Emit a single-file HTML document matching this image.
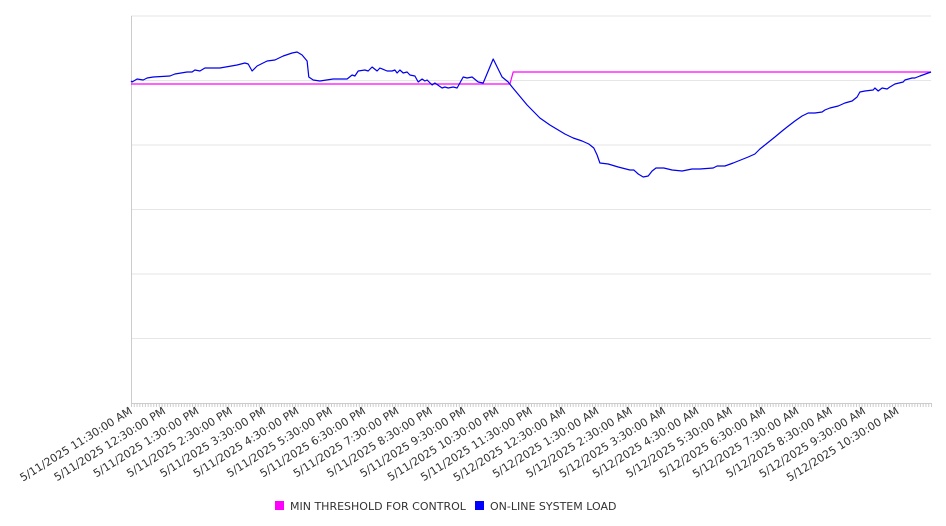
<!DOCTYPE html>
<html><head><meta charset="utf-8"><style>
html,body{margin:0;padding:0;background:#fff;}
svg{display:block;font-family:"DejaVu Sans","Liberation Sans",sans-serif;}
</style></head><body>
<svg id="chart" width="946" height="526" viewBox="0 0 946 526" xmlns="http://www.w3.org/2000/svg">
<g id="grid"></g>
<g id="axes"></g>
<g id="xlabels"></g>
<g id="series"></g>
<g>
  <g>
    <rect x="275" y="501" width="9" height="9" fill="#ff00ff"/>
    <text x="290" y="510" font-size="11" fill="#333">MIN THRESHOLD FOR CONTROL</text>
  </g>
  <g>
    <rect x="475" y="501" width="9" height="9" fill="#0000ff"/>
    <text x="490" y="510" font-size="11" fill="#333">ON-LINE SYSTEM LOAD</text>
  </g>
</g>
</svg>
<script>
const tickLabels = ["5/11/2025 11:30:00 AM","5/11/2025 12:30:00 PM","5/11/2025 1:30:00 PM","5/11/2025 2:30:00 PM","5/11/2025 3:30:00 PM","5/11/2025 4:30:00 PM","5/11/2025 5:30:00 PM","5/11/2025 6:30:00 PM","5/11/2025 7:30:00 PM","5/11/2025 8:30:00 PM","5/11/2025 9:30:00 PM","5/11/2025 10:30:00 PM","5/11/2025 11:30:00 PM","5/12/2025 12:30:00 AM","5/12/2025 1:30:00 AM","5/12/2025 2:30:00 AM","5/12/2025 3:30:00 AM","5/12/2025 4:30:00 AM","5/12/2025 5:30:00 AM","5/12/2025 6:30:00 AM","5/12/2025 7:30:00 AM","5/12/2025 8:30:00 AM","5/12/2025 9:30:00 AM","5/12/2025 10:30:00 AM"];
// minutes since 5/11 11:30 AM
const loadTimes = [0,2,11,22,29,40,70,79,101,110,115,124,133,160,191,205,211,218,227,245,259,274,290,299,308,317,320,328,340,364,389,398,403,409,421,427,434,443,448,461,470,475,479,484,490,497,502,511,517,524,529,533,542,547,560,565,571,580,587,598,605,614,625,634,652,668,679,686,713,736,754,781,796,812,824,833,839,844,859,877,898,905,913,922,931,938,945,959,974,992,1010,1024,1048,1055,1069,1084,1111,1123,1132,1141,1150,1159,1172,1181,1195,1208,1219,1231,1244,1249,1258,1273,1285,1298,1307,1312,1321,1336,1339,1345,1352,1361,1366,1375,1390,1393,1406,1411,1420,1440];
const loadValues = [322,321,324,323,325,326,327,329,331,331,333,332,335,335,338,340,339,332,337,342,343,347,350,351,348,342,326,323,322,324,324,328,327,332,333,332,336,332,335,332,332,333,330,333,330,331,328,327,321,324,322,323,318,320,315,316,315,316,315,326,325,326,321,320,344,326,321,316,298,285,278,269,265,262,259,255,248,240,239,236,233,233,229,226,227,232,235,235,233,232,234,234,235,237,237,240,246,249,254,258,262,266,272,276,282,287,290,290,291,293,295,297,300,302,306,311,312,313,315,312,315,314,316,319,321,323,325,325,327,331];
const thrTimes = [0,682,688,1440];
const thrValues = [319,319,331,331];
const yMax = 387, yGridCount = 6, totalMinutes = 1440;

const L=131,R=931,T=16,B=403;
const NS="http://www.w3.org/2000/svg";
const xS = t => L + t/totalMinutes*(R-L);
const yS = v => B - v/yMax*(B-T);
function mk(tag, attrs, parent){const e=document.createElementNS(NS,tag);for(const k in attrs)e.setAttribute(k,attrs[k]);parent.appendChild(e);return e;}
const grid=document.getElementById('grid'), axes=document.getElementById('axes'), xl=document.getElementById('xlabels'), series=document.getElementById('series');
for(let i=1;i<=yGridCount;i++){
  const v=yMax*i/yGridCount;
  const g=mk('line',{x1:L,x2:R,y1:yS(v),y2:yS(v),stroke:'#e6e6e6','stroke-width':1},grid);
  
  
}
const ya=mk('line',{x1:L+0.5,x2:L+0.5,y1:T,y2:B,stroke:'#ccc','stroke-width':1},axes);


const xa=mk('line',{x1:L,x2:R,y1:B+0.5,y2:B+0.5,stroke:'#ccc','stroke-width':1},axes);


for(let m=0;m<=totalMinutes;m+=5){
  const tk=mk('line',{x1:xS(m)+0.5,x2:xS(m)+0.5,y1:B,y2:B+4,stroke:'#ccc','stroke-width':1},axes);
  
  
}
tickLabels.forEach((lab,i)=>{
  const x=xS(i*60)+2, y=B+10;
  const t=mk('text',{x:x,y:y,'text-anchor':'end','font-size':11,fill:'#333',transform:`rotate(-32 ${x} ${y})`},xl);
  t.textContent=lab;
  
  
});
function path(times,vals){return times.map((t,i)=>(i?'L':'M')+xS(t).toFixed(1)+' '+yS(vals[i]).toFixed(1)).join(' ');}
const thr=mk('path',{d:path(thrTimes,thrValues),fill:'none',stroke:'#ff00ff','stroke-width':1.2},series);


const ld=mk('path',{d:path(loadTimes,loadValues),fill:'none',stroke:'#0000ee','stroke-width':1.2,'stroke-linejoin':'round'},series);


</script>
</body></html>
